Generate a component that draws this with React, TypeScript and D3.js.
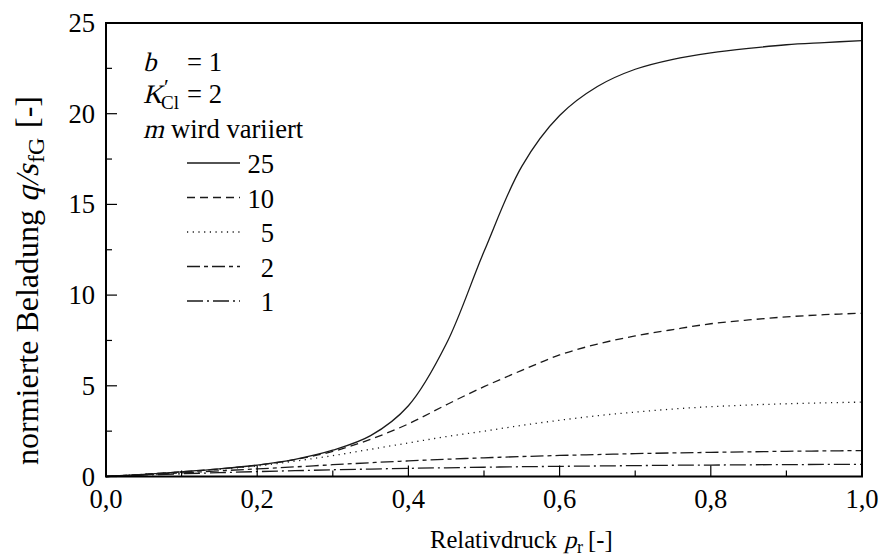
import React from 'react';
import * as d3 from 'd3';

// Relativdruck p_r
const pr = [0, 0.05, 0.1, 0.15, 0.2, 0.25, 0.3, 0.35, 0.4, 0.45, 0.5, 0.55, 0.6, 0.65, 0.7, 0.75, 0.8, 0.85, 0.9, 0.95, 1.0];

// normierte Beladung q/s_fG for each m
const m25 = [0, 0.12, 0.26, 0.42, 0.63, 0.95, 1.45, 2.25, 3.9, 7.3, 12.4, 17.1, 19.9, 21.5, 22.45, 23.0, 23.35, 23.6, 23.8, 23.92, 24.03];
const m10 = [0, 0.12, 0.26, 0.42, 0.62, 0.93, 1.38, 2.05, 2.9, 3.95, 4.95, 5.85, 6.7, 7.3, 7.75, 8.1, 8.42, 8.63, 8.8, 8.92, 9.0];
const m5 = [0, 0.12, 0.25, 0.4, 0.58, 0.85, 1.15, 1.5, 1.85, 2.2, 2.5, 2.82, 3.1, 3.35, 3.55, 3.72, 3.85, 3.94, 4.01, 4.06, 4.1];
const m2 = [0, 0.1, 0.2, 0.31, 0.42, 0.53, 0.65, 0.76, 0.86, 0.95, 1.03, 1.1, 1.16, 1.21, 1.26, 1.3, 1.33, 1.36, 1.39, 1.41, 1.43];
const m1 = [0, 0.08, 0.15, 0.21, 0.27, 0.32, 0.37, 0.41, 0.45, 0.48, 0.51, 0.54, 0.56, 0.58, 0.6, 0.62, 0.63, 0.645, 0.655, 0.665, 0.67];

const seriesLabels = ['25', '10', '5', '2', '1'];
const seriesValues = [m25, m10, m5, m2, m1];
const dashes = ['none', '8,5', '1.2,4.5', '13,4,4,4', '16,4,2,4'];

const xTicks = [0, 0.2, 0.4, 0.6, 0.8, 1.0];
const yTicks = [0, 5, 10, 15, 20, 25];

const F = 'Liberation Serif';
const FS = 26.6; // tick / legend text
const FX = 24.6; // x title
const L = 106; // left edge of plot
const T = 23; // top edge of plot
const width = 756;
const height = 453.5;

const x = d3.scaleLinear().domain([0, 1]).range([L, L + width]);
const y = d3.scaleLinear().domain([0, 25]).range([T + height, T]);

const line = d3.line<number>()
    .x((_, i) => x(pr[i]))
    .y(d => y(d))
    .curve(d3.curveCatmullRom.alpha(0.5));

const xMinor = d3.range(0, 1.0001, 0.1);
const yMinor = d3.range(0, 25.001, 2.5);

// italic letters are drawn slanted (no italic face request, keeps the serif face)
const Ital = ({ x0, y0, size, children }: { x0: number; y0: number; size: number; children: React.ReactNode }) => (
    <text transform={`translate(${x0},${y0}) skewX(-14)`} fontFamily={F} fontSize={size}>{children}</text>
);

const App = () => (
    <svg width={883} height={559} fontFamily={F} style={{ position: 'absolute', left: 0, top: 0, background: '#fff' }}>
        {seriesValues.map((vals, i) => (
            <path key={i} d={line(vals) || ''} fill="none" stroke="#1a1a1a"
                strokeWidth={1.3} strokeDasharray={dashes[i]} />
        ))}

        {xMinor.map((d, i) => (
            <line key={'xt' + i} x1={x(d)} x2={x(d)} y1={y(0)}
                y2={y(0) - (i % 2 === 0 ? 11 : 6)} stroke="#000" strokeWidth={1.2} />
        ))}
        {yMinor.map((d, i) => (
            <line key={'yt' + i} y1={y(d)} y2={y(d)} x1={L}
                x2={L + (i % 2 === 0 ? 11 : 6)} stroke="#000" strokeWidth={1.2} />
        ))}

        <rect x={L} y={T} width={width} height={height} fill="none" stroke="#000" strokeWidth={2} />

        {xTicks.map(d => (
            <text key={'xl' + d} x={x(d)} y={y(0) + 31} textAnchor="middle" fontFamily={F} fontSize={FS}>
                {d3.format('.1f')(d).replace('.', ',')}
            </text>
        ))}
        {yTicks.map(d => (
            <text key={'yl' + d} x={L - 11} y={y(d) + 9} textAnchor="end" fontFamily={F} fontSize={FS}>{d}</text>
        ))}

        {/* x title */}
        <text x={430} y={548} fontFamily={F} fontSize={FX}>Relativdruck</text>
        <Ital x0={564} y0={548} size={FX}>p</Ital>
        <text x={577} y={553} fontFamily={F} fontSize={18}>r</text>
        <text x={588} y={548} fontFamily={F} fontSize={FX}>[-]</text>

        {/* y title */}
        <g transform="translate(38,465) rotate(-90)">
            <text x={0} y={0} fontFamily={F} fontSize={32}>normierte Beladung</text>
            <Ital x0={263} y0={0} size={32}>q/s</Ital>
            <text x={302} y={6} fontFamily={F} fontSize={24}>fG</text>
            <text x={337} y={0} fontFamily={F} fontSize={32}>[-]</text>
        </g>

        {/* annotation and legend */}
        <Ital x0={143} y0={71} size={FS}>b</Ital>
        <text x={187} y={71} fontFamily={F} fontSize={FS}>= 1</text>
        <Ital x0={143} y0={103} size={FS}>K</Ital>
        <text x={164} y={94} fontFamily={F} fontSize={22}>{'\u2032'}</text>
        <text x={161} y={109} fontFamily={F} fontSize={19}>Cl</text>
        <text x={187} y={103} fontFamily={F} fontSize={FS}>= 2</text>
        <Ital x0={143} y0={138} size={FS}>m</Ital>
        <text x={171} y={138} fontFamily={F} fontSize={FS}>wird variiert</text>
        {seriesLabels.map((lab, i) => {
            const yy = 173 + i * 34.5;
            return (
                <g key={lab}>
                    <line x1={187} x2={240} y1={yy - 10} y2={yy - 10} stroke="#1a1a1a"
                        strokeWidth={1.3} strokeDasharray={dashes[i]} />
                    <text x={274} y={yy} textAnchor="end" fontFamily={F} fontSize={FS}>{lab}</text>
                </g>
            );
        })}
    </svg>
);

export default App;
